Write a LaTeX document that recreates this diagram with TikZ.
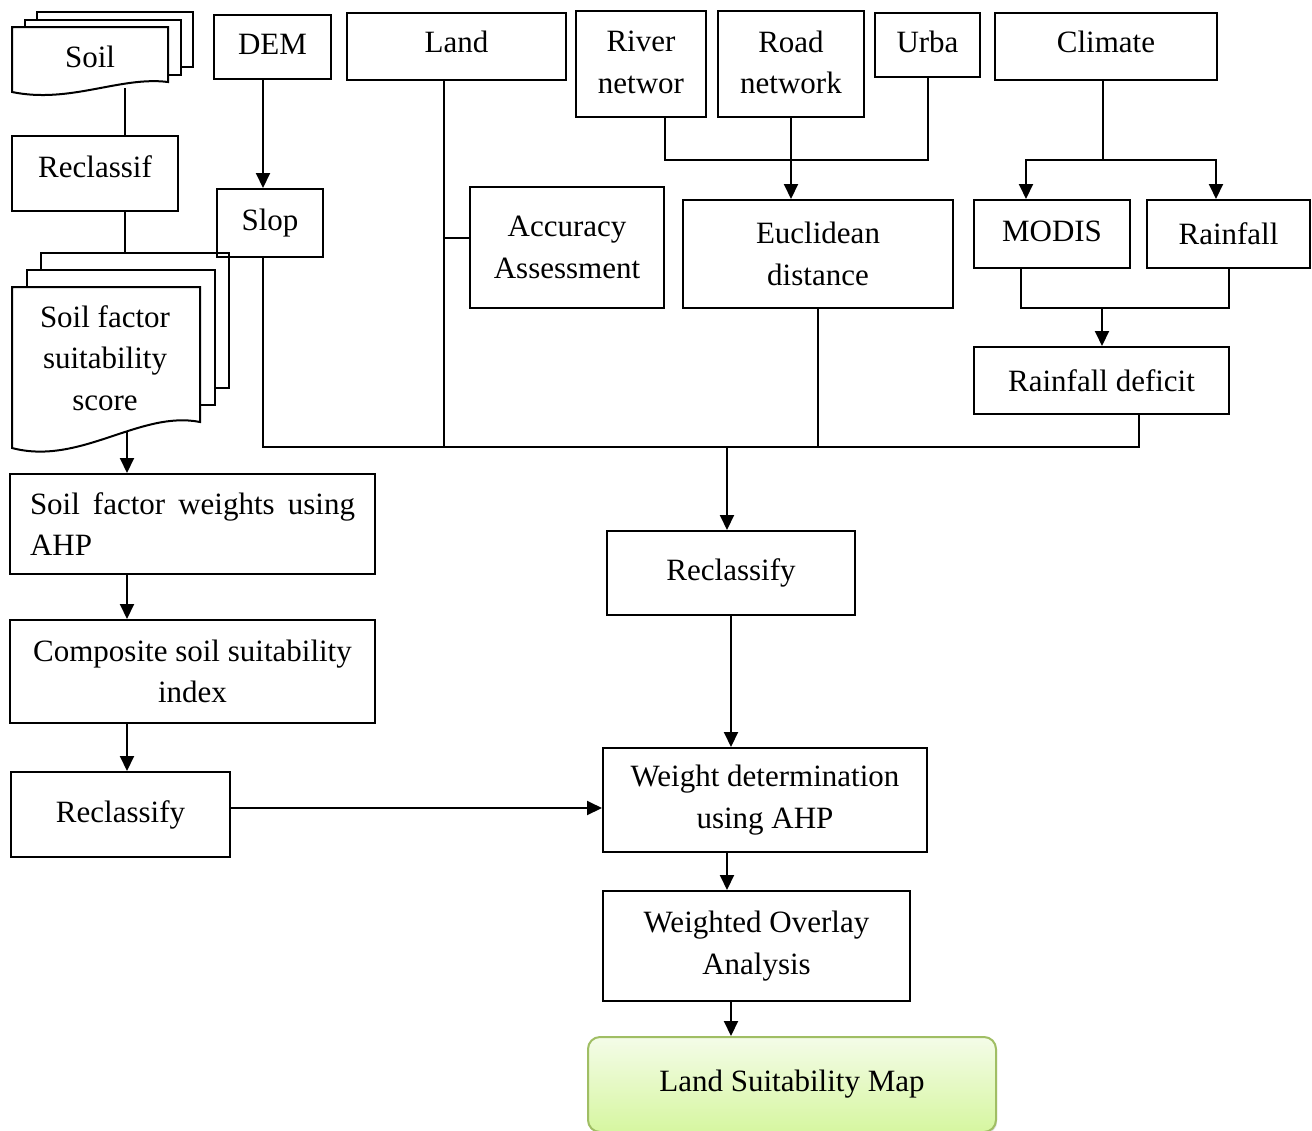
\documentclass[tikz,border=0pt]{standalone}
\usepackage{fontspec}
\setmainfont{Liberation Serif}
\usetikzlibrary{arrows.meta, calc, shadows}

\definecolor{mapBorder}{RGB}{160,190,100}
\definecolor{mapTop}{RGB}{244,252,232}
\definecolor{mapBottom}{RGB}{214,246,160}

\begin{document}
\begin{tikzpicture}[x=0.5pt, y=-0.5pt, line width=1pt,
		every node/.style={font=\fontsize{15.5}{20.75}\selectfont, inner sep=0pt, align=center},
		box/.style={draw, rectangle},
		arr/.style={-{Triangle[length=7.5pt, width=7pt]}}]

			\useasboundingbox (0,0) rectangle (1312,1130);
			\clip (0,0) rectangle (1312,1130);

			\begin{scope}
				\foreach \k in {2,1}
				{
					\draw[fill=white] (12+\k*12.5, 27-\k*7.5) rectangle ++(156,55);
				}
				\draw[fill=white] (12,92) -- (12,27) -- (168,27) -- (168,82) .. controls (120,76) and (70,104) .. (12,92) -- cycle;
				\node (soil) at (90,57) {Soil};
				\coordinate (soilwave) at (125,88);

				\foreach \k in {2,1}
				{
					\draw[fill=white] (12+\k*14.5, 287-\k*17) rectangle ++(188,135);
				}
				\draw[fill=white] (12,448) -- (12,287) -- (200,287) -- (200,422) .. controls (140,410) and (80,466) .. (12,448) -- cycle;
				\node (score) at (105,358) {Soil factor\\suitability\\score};
				\coordinate (scoretop) at (125,253);
				\coordinate (scorewave) at (127,432);
			\end{scope}

			\begin{scope}
				\node[box, minimum width=58.5pt, minimum height=32pt, text depth=3pt] (dem) at (272.5,47) {DEM};
				\node[box, minimum width=109.5pt, minimum height=33.5pt, text depth=5pt] (land) at (456.5,46.5) {Land};
				\node[box, minimum width=65pt, minimum height=53pt, text depth=2pt] (river) at (641,64) {River\\networ};
				\node[box, minimum width=73pt, minimum height=53pt, text depth=2pt] (road) at (791,64) {Road\\network};
				\node[box, minimum width=52.5pt, minimum height=32pt, text depth=3pt] (urba) at (927.5,45) {Urba};
				\node[box, minimum width=111pt, minimum height=33.5pt, text depth=5pt] (climate) at (1106,46.5) {Climate};

				\node[box, minimum width=83pt, minimum height=37.5pt, text depth=7pt] (reclassif) at (95,173.5) {Reclassif};
				\node[box, minimum width=53pt, minimum height=34pt] (slop) at (270,223) {Slop};
				\node[box, minimum width=97pt, minimum height=60.5pt] (accuracy) at (567,247.5) {Accuracy\\Assessment};
				\node[box, minimum width=135pt, minimum height=54pt] (euclid) at (818,254) {Euclidean\\distance};
				\node[box, minimum width=78pt, minimum height=34pt, text depth=3pt] (modis) at (1052,234) {MODIS};
				\node[box, minimum width=81.5pt, minimum height=34pt] (rainfall) at (1228.5,234) {Rainfall};
				\node[box, minimum width=127.5pt, minimum height=33.5pt] (deficit) at (1101.5,380.5) {Rainfall deficit};

				\node[box, minimum width=182.5pt, minimum height=50pt, text width=162.5pt, align=justify] (weights) at (192.5,524) {Soil factor weights using AHP};
				\node[box, minimum width=182.5pt, minimum height=51.5pt] (composite) at (192.5,671.5) {Composite soil suitability\\index};
				\node[box, minimum width=109.5pt, minimum height=42.5pt] (reclsoil) at (120.5,814.5) {Reclassify};

				\node[box, minimum width=124pt, minimum height=42pt] (reclass) at (731,573) {Reclassify};
				\node[box, minimum width=162pt, minimum height=52pt] (weightdet) at (765,800) {Weight determination\\using AHP};
				\node[box, minimum width=153.5pt, minimum height=55pt] (overlay) at (756.5,946) {Weighted Overlay\\Analysis};
				\node[draw=mapBorder, rounded corners=6pt, top color=mapTop, bottom color=mapBottom,
					drop shadow={opacity=0.25, shadow xshift=0.6pt, shadow yshift=-0.8pt},
					minimum width=204pt, minimum height=47.5pt] (lsm) at (792,1084.5) {Land Suitability Map};
			\end{scope}

			\coordinate (busL) at (263,447);
			\coordinate (busR) at (1139,447);
			\coordinate (busM) at (727,447);
			\coordinate (landx) at (444,447);
			\coordinate (acc) at ([yshift=4.75pt]accuracy.west);
			\coordinate (soilout) at ([yshift=3.25pt]reclsoil.east);
			\coordinate (riv) at (665,160);
			\coordinate (clim) at (1103,160);
			\coordinate (climL) at (1026,160);
			\coordinate (climR) at (1216,160);
			\coordinate (modx) at (1021,308);
			\coordinate (join) at (1102,308);

			\begin{scope}
				\draw (soilwave) -- (soilwave |- reclassif.north);
				\draw (reclassif.south -| scoretop) -- (scoretop);
				\draw (slop.south -| busL) -- (busL) -- (busR) -- (busR |- deficit.south);
				\draw (land.south -| landx) -- (landx);
				\draw (landx |- acc) -- (acc);
				\draw (euclid.south) -- (euclid.south |- busL);
				\draw (river.south -| riv) -- (riv) -- (riv -| urba.south) -- (urba.south);
				\draw (climate.south -| clim) -- (clim);
				\draw (modis.south -| modx) -- (modx) -- (modx -| rainfall.south) -- (rainfall.south);
			\end{scope}

			\begin{scope}[arr]
				\draw (dem.south -| busL) -- (slop.north -| busL);
				\draw (road.south) -- (road.south |- euclid.north);
				\draw (clim) -- (climL) -- (climL |- modis.north);
				\draw (clim) -- (climR) -- (climR |- rainfall.north);
				\draw (join) -- (join |- deficit.north);
				\draw (busM) -- (busM |- reclass.north);
				\draw (scorewave) -- (weights.north -| scorewave);
				\draw (weights.south -| scorewave) -- (composite.north -| scorewave);
				\draw (composite.south -| scorewave) -- (reclsoil.north -| scorewave);
				\draw (soilout) -- (weightdet.west |- soilout);
				\draw (reclass.south) -- (reclass.south |- weightdet.north);
				\draw (weightdet.south -| busM) -- (overlay.north -| busM);
				\draw (overlay.south -| reclass.south) -- (lsm.north -| reclass.south);
			\end{scope}
		\end{tikzpicture}
\end{document}
